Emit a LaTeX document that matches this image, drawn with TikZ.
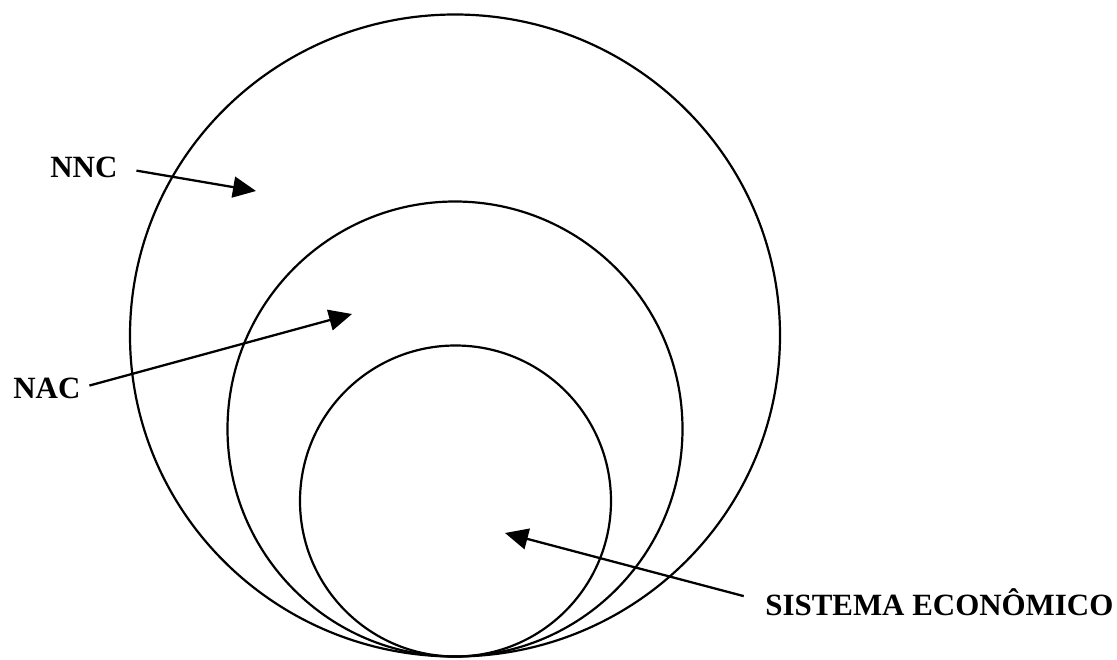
\documentclass[tikz,border=0pt]{standalone}
\usepackage{fontspec}
\setmainfont{Liberation Serif}
\usetikzlibrary{arrows.meta}
\begin{document}
\begin{tikzpicture}[x=1cm,y=1cm,font=\fontsize{17.6}{20}\selectfont\bfseries,
  ring/.style={line width=1.25pt},
  pointer/.style={line width=1.3pt,-{Triangle[length=0.46cm,width=0.42cm]}},
  tag/.style={inner sep=0pt,anchor=base west}]
  \useasboundingbox (0,0) rectangle (22.34,13.18);
  % nested systems, all touching at the bottom
  \draw[ring] (9.10,6.47) ellipse [x radius=6.50,y radius=6.42];
  \draw[ring] (9.10,4.60) circle [radius=4.55];
  \draw[ring] (9.11,3.16) circle [radius=3.11];
  \node[tag] (nnc) at (1.00,9.63) {NNC};
  \node[tag] (nac) at (0.26,5.22) {NAC};
  \node[tag] (eco) at (15.30,0.88) {SISTEMA ECONÔMICO};
  \coordinate (nncTip) at (5.12,9.36);
  \coordinate (nacTip) at (7.04,6.90);
  \coordinate (ecoTip) at (10.10,2.52);
  \draw[pointer,shorten <=0.38cm] (nnc.east) -- (nncTip);
  \draw[pointer,shorten <=0.18cm] (nac.east) -- (nacTip);
  \draw[pointer,shorten <=0.44cm] (eco.west) -- (ecoTip);
\end{tikzpicture}
\end{document}
